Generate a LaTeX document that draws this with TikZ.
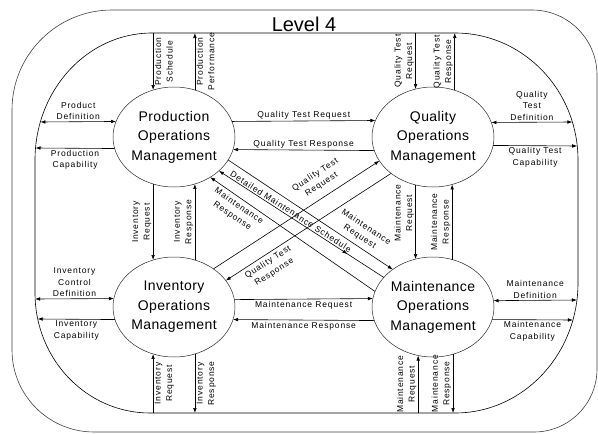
\documentclass[tikz,border=0pt]{standalone}
\usepackage{fontspec}
\setmainfont{Liberation Sans}
\newfontfamily\flowfont{Liberation Sans}[LetterSpace=10]
\newfontfamily\opsfont{Liberation Sans}[LetterSpace=3]
\usetikzlibrary{arrows.meta,shapes.geometric,decorations.markings}

\begin{document}
\begin{tikzpicture}[
  x=1pt, y=-1pt,
  >={Latex[length=5pt,width=3.6pt]},
  ops/.style={draw=black!85,ellipse,minimum width=122pt,minimum height=100pt,inner sep=0pt,outer sep=0pt,line width=0.5pt},
  opstext/.style={font=\opsfont\fontsize{14}{19.5}\selectfont,align=center},
  flow/.style={line width=0.6pt},
  lbl/.style={font=\flowfont\fontsize{8.5}{11.5}\selectfont,align=center,inner sep=1.5pt},
  vlbl/.style={lbl,rotate=90},
  midtip/.style={postaction={decorate,decoration={markings,
    mark=at position #1 with {\arrowreversed{Latex[length=5pt,width=3.6pt]}}}}},
]
\useasboundingbox (0,0) rectangle (598,434);

% outer frame and level 4 boundary
\draw[line width=0.6pt,black!75] (112,10) -- (532,10)
  arc[start angle=270,end angle=360,radius=65] -- (597,369)
  arc[start angle=0,end angle=90,radius=63] -- (94,432)
  arc[start angle=90,end angle=180,radius=82] -- (12,110)
  arc[start angle=180,end angle=270,radius=100] -- cycle;
\draw[flow] (152,33) -- (455,33)
  arc[start angle=270,end angle=360,x radius=123,y radius=127] -- (578,283)
  arc[start angle=0,end angle=90,x radius=123,y radius=130] -- (150,413)
  arc[start angle=90,end angle=180,x radius=115,y radius=120] -- (35,160)
  arc[start angle=180,end angle=270,x radius=117,y radius=127] -- cycle;
\node[font=\fontsize{20}{24}\selectfont,anchor=base] (level) at (304,31.5) {Level 4};

% free ends on the boundary
\coordinate (top) at (300,33);
\coordinate (bot) at (300,413);
\coordinate (pd-end) at (40.4,122);
\coordinate (pc-end) at (35.5,148);
\coordinate (qtd-end) at (572.4,122);
\coordinate (qtc-end) at (577.2,146);
\coordinate (icd-end) at (35.1,299);
\coordinate (ic-end) at (37.7,319);
\coordinate (md-end) at (576.9,300);
\coordinate (mc-end) at (572.9,320);

% the four operations areas
\node[ops] (pom) at (174,137) {};
\node[ops] (qom) at (433,137) {};
\node[ops] (iom) at (174,307) {};
\node[ops] (mom) at (433,307) {};
\node[opstext] (pom-t) at (pom) {Production\\Operations\\Management};
\node[opstext] (qom-t) at (qom) {Quality\\Operations\\Management};
\node[opstext] (iom-t) at (iom) {Inventory\\Operations\\Management};
\node[opstext] (mom-t) at (mom) {Maintenance\\Operations\\Management};

% production
\draw[flow,->] (pom.114 |- top) -- node[vlbl,anchor=north]{Production\\Schedule} (pom.114);
\draw[flow,->] (pom.66) -- node[vlbl,anchor=north]{Production\\Performance} (pom.66 |- top);
\draw[flow,<->] (pd-end) -- node[lbl,above]{Product\\Definition} (pom.165.5);
\draw[flow,->] (pom.-169.5) -- node[lbl,below]{Production\\Capability} (pc-end);

% quality
\draw[flow,->] (qom.110.6 |- top) -- node[vlbl,anchor=south]{Quality Test\\Request} (qom.110.6);
\draw[flow,->] (qom.65) -- node[vlbl,anchor=south]{Quality Test\\Response} (qom.65 |- top);
\draw[flow,<->] (qom.14.5) -- node[lbl,above]{Quality\\Test\\Definition} (qtd-end);
\draw[flow,->] (qom.-8.5) -- node[lbl,below]{Quality Test\\Capability} (qtc-end);
\draw[flow,->] (pom.15.5) -- node[lbl,above]{Quality Test Request} (qom.164.5);
\draw[flow,->] (qom.-167.5) -- node[lbl,above]{Quality Test Response} (pom.-12.5);

% inventory
\draw[flow,->] (pom.-114) -- node[vlbl,anchor=south]{Inventory\\Request} (iom.114);
\draw[flow,->] (iom.66) -- node[vlbl,anchor=south]{Inventory\\Response} (pom.-66);
\draw[flow,<->] (icd-end) -- node[lbl,above]{Inventory\\Control\\Definition} (iom.172.4);
\draw[flow,->] (iom.-168.5) -- node[lbl,below]{Inventory\\Capability} (ic-end);
\draw[flow,->] (iom.-114 |- bot) -- node[vlbl,anchor=north]{Inventory\\Request} (iom.-114);
\draw[flow,->] (iom.-66) -- node[vlbl,anchor=north]{Inventory\\Response} (iom.-66 |- bot);

% maintenance
\draw[flow,->] (qom.-110.6) -- node[vlbl,anchor=south,pos=.38]{Maintenance\\Request} (mom.110.6);
\draw[flow,->] (mom.68.2) -- node[vlbl,anchor=south]{Maintenance\\Response} (qom.-68.2);
\draw[flow,->] (iom.7.6) -- node[lbl,below]{Maintenance Request} (mom.172.4);
\draw[flow,->] (mom.-167.5) -- node[lbl,below]{Maintenance Response} (iom.-12.5);
\draw[flow,<->] (mom.6.6) -- node[lbl,above]{Maintenance\\Definition} (md-end);
\draw[flow,->] (mom.-12.5) -- node[lbl,below]{Maintenance\\Capability} (mc-end);
\draw[flow,->] (mom.-107.2 |- bot) -- node[vlbl,anchor=south]{Maintenance\\Request} (mom.-107.2);
\draw[flow,->] (mom.-67) -- node[vlbl,anchor=south]{Maintenance\\Response} (mom.-67 |- bot);

% crossing flows
\draw[flow,->] (pom.-23) -- node[lbl,above=3pt,sloped,pos=.77]{Maintenance\\Request} (mom.137);
\draw[flow,->,midtip=.22] (mom.149) -- node[lbl,above,sloped,pos=.58]{Detailed Maintenance Schedule} (pom.-37);
\draw[flow,->] (mom.165) -- node[lbl,below=2pt,sloped,pos=.8]{Maintenance\\Response} (pom.-48);
\draw[flow,->] (iom.44) -- node[lbl,above=6pt,sloped,pos=.69]{Quality Test\\Request} (qom.-156);
\draw[flow,->] (qom.-139) -- node[lbl,below=2pt,sloped,pos=.77]{Quality Test\\Response} (iom.27);
\end{tikzpicture}
\end{document}
